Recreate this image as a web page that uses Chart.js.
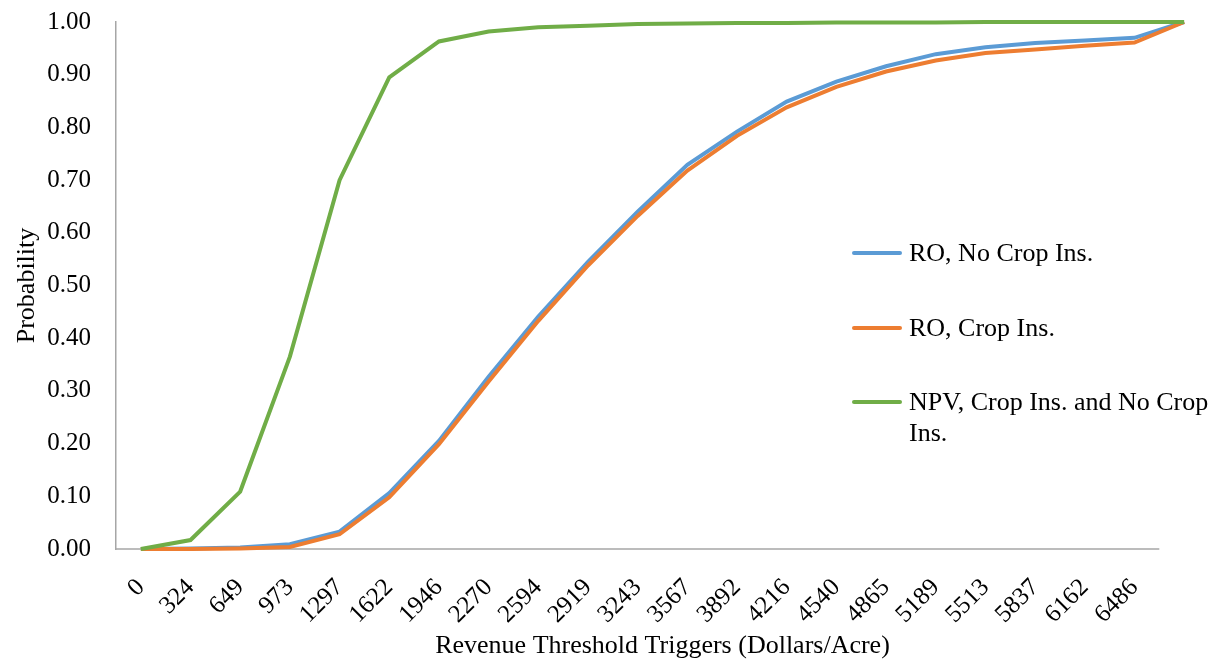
<!DOCTYPE html>
<html>
<head>
<meta charset="utf-8">
<script src="https://cdn.jsdelivr.net/npm/chart.js@4/dist/chart.umd.min.js"></script>
<style>
    html, body { margin: 0; padding: 0; background: #fff; }
    #wrap { position: relative; width: 1223px; height: 663px; }
    #legend { position: absolute; left: 852px; top: 0; font-family: "Liberation Serif", "Times New Roman", serif; font-size: 26px; color: #000; }
    .item { position: absolute; left: 0; display: flex; align-items: flex-start; }
    .swatch { width: 50px; height: 4px; margin-top: 14px; margin-right: 7px; border-radius: 2px; }
    .txt { width: 312px; line-height: 31px; }
</style>
</head>
<body>
<div id="wrap">
    <canvas id="cdfChart"></canvas>
    <div id="legend"></div>
</div>
<script>
// Revenue threshold triggers (last point has no label in the original)
const thresholds = ['0', '324', '649', '973', '1297', '1622', '1946', '2270', '2594', '2919', '3243',
    '3567', '3892', '4216', '4540', '4865', '5189', '5513', '5837', '6162', '6486', ''];

// Cumulative probabilities
const roNoCropIns = [0, 0.001, 0.003, 0.009, 0.033, 0.106, 0.205, 0.327, 0.441, 0.545, 0.640,
    0.729, 0.792, 0.849, 0.887, 0.916, 0.939, 0.952, 0.960, 0.965, 0.970, 1.0];
const roCropIns = [0, 0, 0.001, 0.004, 0.028, 0.098, 0.199, 0.318, 0.433, 0.538, 0.632,
    0.718, 0.784, 0.838, 0.877, 0.906, 0.927, 0.941, 0.948, 0.955, 0.961, 1.0];
const npvBoth = [0, 0.017, 0.109, 0.365, 0.700, 0.895, 0.963, 0.982, 0.990, 0.993, 0.996,
    0.997, 0.998, 0.998, 0.999, 0.999, 0.999, 1.0, 1.0, 1.0, 1.0, 1.0];

const seriesLabels = ['RO, No Crop Ins.', 'RO, Crop Ins.', 'NPV, Crop Ins. and No Crop Ins.'];
const seriesColors = ['#5B9BD5', '#ED7D31', '#70AD47'];
const legendCenters = [252, 327, 401];

const serif = '"Liberation Serif", "Times New Roman", serif';
const axisGrey = '#a6a6a6';

// x axis line only spans the labelled categories (like the Excel original)
const xAxisLine = {
    id: 'xAxisLine',
    beforeDatasetsDraw(chart) {
        const { ctx, chartArea, scales: { x } } = chart;
        const half = (x.getPixelForValue(1) - x.getPixelForValue(0)) / 2;
        const end = x.getPixelForValue(thresholds.length - 2) + half;
        ctx.save();
        ctx.strokeStyle = axisGrey;
        ctx.lineWidth = 1.5;
        ctx.beginPath();
        ctx.moveTo(chartArea.left, chartArea.bottom);
        ctx.lineTo(end, chartArea.bottom);
        ctx.stroke();
        ctx.restore();
    }
};

const chart = new Chart(document.getElementById('cdfChart'), {
    type: 'line',
    data: {
        labels: thresholds,
        datasets: [roNoCropIns, roCropIns, npvBoth].map((d, i) => ({
            label: seriesLabels[i],
            data: d,
            borderColor: seriesColors[i],
            backgroundColor: seriesColors[i],
            borderWidth: 4,
            pointRadius: 0,
            tension: 0,
            clip: false,
            order: 3 - i
        }))
    },
    options: {
        responsive: true,
        maintainAspectRatio: false,
        animation: false,
        layout: { padding: { top: 22, right: 14, left: 0, bottom: 0 } },
        plugins: {
            legend: { display: false },
            tooltip: { enabled: false }
        },
        scales: {
            x: {
                offset: true,
                grid: { display: false, drawTicks: false },
                border: { display: false },
                afterFit: (s) => {
                    s.height = 114;
                    s.paddingLeft = 0;
                    s.paddingRight = 0;
                },
                ticks: {
                    autoSkip: false,
                    minRotation: 45,
                    maxRotation: 45,
                    padding: 24,
                    color: '#000',
                    font: { family: serif, size: 25 }
                },
                title: {
                    display: true,
                    text: 'Revenue Threshold Triggers (Dollars/Acre)',
                    color: '#000',
                    font: { family: serif, size: 26 },
                    padding: { top: 0, bottom: 1 }
                }
            },
            y: {
                min: 0,
                max: 1,
                grid: { display: false, drawTicks: false },
                border: { display: true, color: axisGrey, width: 1.5 },
                afterFit: (s) => {
                    s.width = 116;
                    // tick padding would otherwise push the plot top down
                    s.paddingTop = 0;
                    s.paddingBottom = 0;
                },
                ticks: {
                    stepSize: 0.1,
                    padding: 25,
                    color: '#000',
                    font: { family: serif, size: 25 },
                    callback: (v) => v.toFixed(2)
                },
                title: {
                    display: true,
                    text: 'Probability',
                    color: '#000',
                    font: { family: serif, size: 26 },
                    padding: { top: 12, bottom: 0 }
                }
            }
        }
    },
    plugins: [xAxisLine]
});

// HTML legend placed over the plot area, built from the datasets
const legendEl = document.getElementById('legend');
chart.data.datasets.forEach((ds, i) => {
    const item = document.createElement('div');
    item.className = 'item';
    item.style.top = (legendCenters[i] - 15.5) + 'px';
    const sw = document.createElement('div');
    sw.className = 'swatch';
    sw.style.background = ds.borderColor;
    const tx = document.createElement('div');
    tx.className = 'txt';
    tx.textContent = ds.label;
    item.appendChild(sw);
    item.appendChild(tx);
    legendEl.appendChild(item);
});
</script>
</body>
</html>
